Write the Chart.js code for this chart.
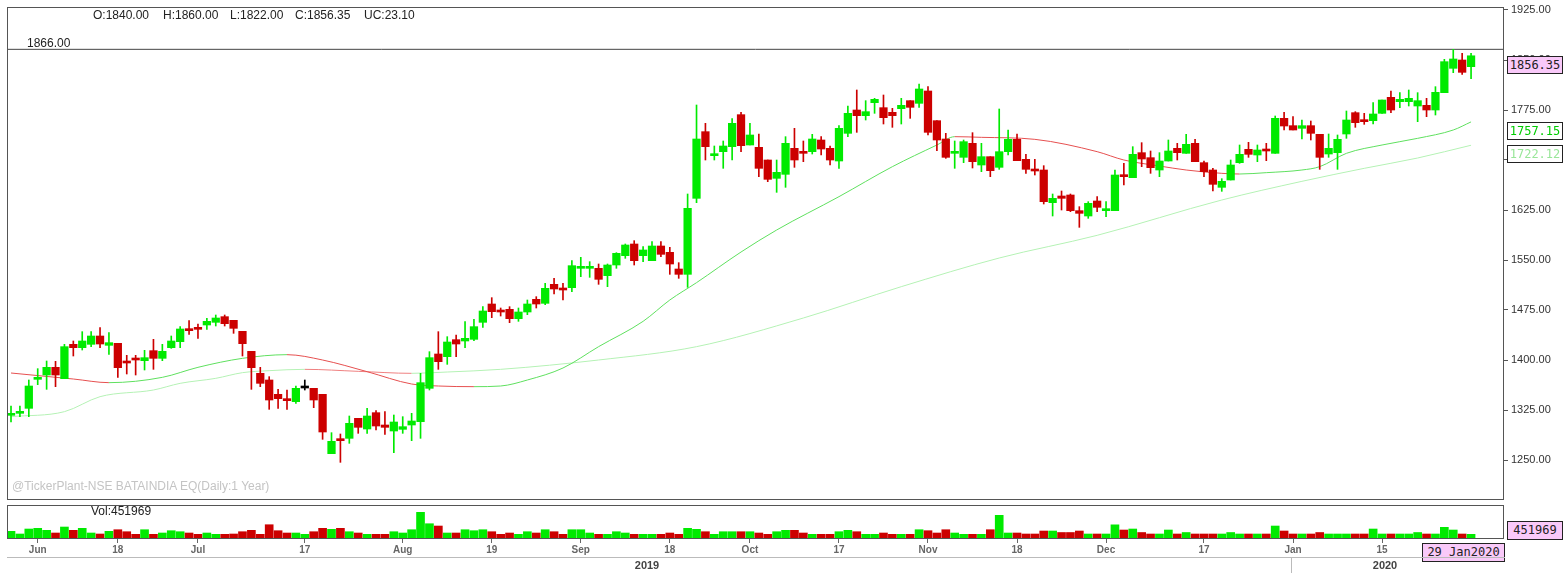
<!DOCTYPE html>
<html>
<head>
<meta charset="utf-8">
<script src="https://cdn.jsdelivr.net/npm/chart.js@4.4.1/dist/chart.umd.min.js"></script>
<style>
  html, body { margin: 0; padding: 0; background: #fff; }
  body { width: 1568px; height: 573px; position: relative; overflow: hidden; font-family: "Liberation Sans", Arial, sans-serif; }
  #priceWrap { position: absolute; left: 0; top: 0; width: 1568px; height: 503px; }
  #volWrap { position: absolute; left: 0; top: 503px; width: 1568px; height: 70px; }
  .txt { position: absolute; white-space: pre; font-size: 12px; line-height: 14px; color: #222; }
  .wm { color: #c4c4c4; }
  .box { position: absolute; border: 1px solid #222; box-sizing: border-box; font-family: "DejaVu Sans Mono", monospace; font-size: 12px; line-height: 16px; text-align: center; color: #222; background: #fff; }
  .pink { background: #f9c9f9; }
  .year { position: absolute; font-size: 11px; font-weight: bold; color: #444; transform: translateX(-50%); }
  .hline { position: absolute; left: 7px; width: 1498px; height: 1px; background: #bbb; }
  .vline { position: absolute; width: 1px; background: #bbb; }
</style>
</head>
<body>
<div id="priceWrap"><canvas id="priceChart" width="1568" height="503"></canvas></div>
<div id="volWrap"><canvas id="volChart" width="1568" height="70"></canvas></div>

<div class="txt" style="left:93px;top:8px">O:1840.00</div>
<div class="txt" style="left:163px;top:8px">H:1860.00</div>
<div class="txt" style="left:230px;top:8px">L:1822.00</div>
<div class="txt" style="left:295px;top:8px">C:1856.35</div>
<div class="txt" style="left:364px;top:8px">UC:23.10</div>
<div class="txt" style="left:27px;top:36px">1866.00</div>
<div class="txt wm" style="left:12px;top:479px">@TickerPlant-NSE BATAINDIA EQ(Daily:1 Year)</div>
<div class="txt" style="left:91px;top:504px">Vol:451969</div>

<div class="box pink" style="left:1507px;top:56px;width:56px;height:18px">1856.35</div>
<div class="box" style="left:1507px;top:122px;width:56px;height:18px;color:#00cc00">1757.15</div>
<div class="box" style="left:1507px;top:145px;width:56px;height:18px;color:#99e699">1722.12</div>
<div class="box pink" style="left:1507px;top:521px;width:56px;height:19px">451969</div>
<div class="box pink" style="left:1422px;top:543px;width:83px;height:19px">29 Jan2020</div>

<div class="hline" style="top:557px"></div>
<div class="vline" style="left:1291px;top:557px;height:16px"></div>
<div class="year" style="left:647px;top:559px">2019</div>
<div class="year" style="left:1385px;top:559px">2020</div>

<script>
// daily candles, 30 May 2019 .. 29 Jan 2020
const opens = [1317,1320,1327.5,1371,1377.5,1389,1372,1423.5,1418.5,1423.5,
  1436,1422,1425,1397.5,1402.5,1399,1414,1402.5,1418.5,1427.5,
  1446.5,1448.5,1452.5,1456.5,1465,1459.5,1443,1413,1380,1370,
  1348.5,1342,1337.5,1358,1357.5,1348.5,1259.5,1282,1282.5,1312.5,
  1296.5,1321,1302.5,1293.5,1296,1302.5,1307.5,1357.5,1409,1405,
  1430.5,1428.5,1431,1456.5,1484,1474,1476,1462,1472,1491,
  1485,1513.5,1506,1508.5,1537.5,1537.5,1537.5,1526.5,1542.5,1556.5,
  1574,1556.5,1549,1571,1561.5,1536.5,1528.5,1642.5,1742.5,1706.5,
  1712.5,1720,1768,1722.5,1719,1700,1672.5,1678.5,1717.5,1712.5,
  1712.5,1730,1717.5,1698.5,1740,1775,1766.5,1786,1778.5,1771.5,
  1777,1789,1785,1803.5,1759,1731.5,1710,1704,1725,1692.5,
  1705,1689,1712.5,1731,1701,1686.5,1685,1636,1646,1647.5,
  1624,1616,1638.5,1624,1624,1677.5,1673.5,1711,1703.5,1685,
  1698.5,1717.5,1710,1725,1696,1685,1659,1670,1696,1716,
  1707.5,1716,1710,1762.5,1751.5,1747.5,1751.5,1738.5,1709,1711,
  1739,1771,1760,1759,1770,1794,1787.5,1787.5,1781,1782,
  1775,1801,1837.5,1850,1840];
const highs = [1331,1331,1370,1387,1398.5,1398,1423.5,1428.5,1442.5,1442.5,
  1448.5,1441,1425,1407,1407,1414.5,1431,1423.5,1436,1450,
  1459,1454,1462.5,1467.5,1467.5,1459.5,1443,1413,1389,1375,
  1356,1355,1361,1370,1357.5,1348.5,1291,1289,1316,1312.5,
  1327.5,1324,1322.5,1317.5,1315,1320,1380,1412.5,1442.5,1435,
  1437.5,1457.5,1461,1480,1493.5,1478,1480,1478,1490,1495,
  1515,1522.5,1515,1549,1554,1547.5,1544,1544,1561,1574,
  1579,1570,1577.5,1577.5,1569,1546,1649,1782.5,1755,1721,
  1728.5,1762,1771.5,1755,1739,1700,1700,1735,1747.5,1728.5,
  1738.5,1735,1721,1751.5,1781,1805,1789,1792.5,1797.5,1777.5,
  1792.5,1789,1814,1810,1759,1740,1728.5,1730,1741,1725,
  1705,1776.5,1745,1739,1708.5,1701,1691.5,1649,1653.5,1649,
  1630,1637.5,1645,1637.5,1685,1695,1720,1726,1713.5,1711,
  1730,1725,1738.5,1731,1698.5,1687.5,1672,1700,1722.5,1726.5,
  1722.5,1725,1766,1771.5,1765,1760,1758.5,1738.5,1739,1737.5,
  1773.5,1772.5,1770,1786,1790,1803.5,1801,1805,1801,1792.5,
  1810,1851,1866,1860,1860];
const lows = [1307,1315,1315,1363,1356,1360,1372,1406,1415,1420,
  1418.5,1408.5,1374,1379,1377.5,1385,1386,1399,1417.5,1418.5,
  1438.5,1432.5,1446,1451,1451,1440,1406,1356,1360,1326,
  1327.5,1326,1335,1355,1328.5,1281,1259.5,1246.5,1275,1290,
  1290,1295,1288.5,1261,1290,1279,1282.5,1355,1386,1393.5,
  1405,1418.5,1429,1449,1463.5,1466,1456,1458,1468,1478,
  1483,1499,1490,1502.5,1525,1524,1513.5,1510,1537.5,1552.5,
  1542.5,1547.5,1549,1555,1528.5,1522.5,1509,1636,1700,1700,
  1687.5,1700,1712.5,1722.5,1675,1667.5,1651.5,1659,1689,1697.5,
  1709,1707.5,1692.5,1687.5,1735,1741.5,1760,1770,1754,1749,
  1754,1762.5,1779,1737.5,1714,1702.5,1687.5,1696,1688,1682.5,
  1675,1686,1707.5,1699,1680,1677.5,1634,1616,1625,1622.5,
  1599,1612.5,1622.5,1615,1624,1662.5,1673.5,1690,1680,1675,
  1698.5,1700,1710,1697.5,1675,1653.5,1653,1670,1695,1704,
  1697.5,1699,1710,1745,1745,1731.5,1730,1686,1704,1686,
  1732.5,1749,1753.5,1754,1770,1771,1778.5,1781,1757.5,1765,
  1767.5,1801,1831,1828.5,1822];
const closes = [1320,1323,1361,1374,1389,1377.5,1420,1418.5,1428.5,1436,
  1424,1426,1388.5,1395.5,1400,1403.5,1402.5,1413,1428.5,1446.5,
  1444,1446,1458,1463,1454.5,1447.5,1424.5,1388.5,1365,1340,
  1342,1339,1357.5,1358,1340,1292,1278,1279,1305,1299,
  1316,1301,1299,1307,1300,1308.5,1366,1403.5,1397.5,1427,
  1424,1432.5,1450,1473.5,1472.5,1472,1462,1472,1484,1484,
  1507.5,1506.5,1505,1541.5,1538.5,1540,1521,1542.5,1560,1572.5,
  1549,1565,1571,1558.5,1544,1528.5,1627.5,1731.5,1720,1708.5,
  1721,1755,1721.5,1737.5,1687.5,1671,1681.5,1725,1700,1710,
  1731.5,1716.5,1700,1747.5,1770,1766.5,1772.5,1791,1763.5,1766.5,
  1782,1779,1806.5,1741.5,1730,1704,1711,1727.5,1697.5,1705,
  1684,1712.5,1731,1699,1686,1683.5,1637.5,1642.5,1642.5,1624,
  1620,1635,1629,1626.5,1677.5,1675,1708.5,1701.5,1688.5,1698.5,
  1713.5,1711,1723.5,1697.5,1682.5,1663.5,1668,1692.5,1708.5,1708.5,
  1715,1713.5,1762.5,1751,1745,1751.5,1740,1704,1717.5,1731,
  1760,1756,1757.5,1769,1790,1775,1791,1792.5,1789,1775,
  1801.5,1847.5,1851.5,1831.5,1856.35];
const volumes = [739000,480000,960000,1027000,835000,576000,1152000,835000,1027000,576000,
  480000,739000,893000,701000,451000,893000,451000,576000,797000,701000,
  576000,451000,576000,451000,451000,480000,701000,835000,451000,1373000,
  797000,576000,576000,451000,701000,1027000,931000,1027000,701000,576000,
  451000,451000,451000,701000,576000,893000,2563000,1469000,1248000,576000,
  576000,893000,797000,893000,701000,451000,576000,451000,701000,576000,
  893000,701000,451000,893000,893000,576000,451000,451000,701000,576000,
  451000,451000,451000,451000,576000,451000,1027000,931000,701000,451000,
  701000,701000,701000,701000,576000,451000,701000,835000,835000,576000,
  451000,451000,451000,701000,835000,701000,451000,451000,576000,451000,
  451000,451000,893000,797000,576000,893000,576000,451000,451000,451000,
  893000,2275000,576000,576000,480000,480000,768000,768000,624000,624000,
  768000,480000,480000,480000,1363000,864000,960000,624000,480000,480000,
  864000,480000,624000,480000,480000,480000,480000,624000,480000,480000,
  480000,480000,1248000,768000,480000,480000,480000,624000,480000,480000,
  480000,480000,480000,960000,480000,480000,480000,480000,624000,480000,
  480000,1123000,864000,480000,451969];

// moving averages (candle index, price)
const maFastIdx = [0,7,11,17,21,26,31,35,40,45,48,52,55,58,62,66,71,74,77,82,86,93,99,104,106,109,115,122,125,129,132,136,138,141,145,147,150,154,158,162,164];
const maFastVal = [1380.5,1371.5,1366,1374,1389,1402.5,1408,1400,1382.5,1364,1361,1360,1361,1370,1388,1420,1458,1490,1516,1562,1595,1645,1690,1722.5,1735,1734,1731,1712.5,1700,1691,1685,1680,1679,1681,1685,1690,1710,1722.5,1732.5,1745,1757.15];
const maSlowIdx = [0,6,10,16,19,23,26,29,33,39,45,49,55,66,77,89,100,111,122,136,145,152,158,164];
const maSlowVal = [1315,1322.5,1345,1355,1365,1372.5,1381,1384,1386,1383,1380,1382,1386,1400,1420,1463,1510,1553,1587,1640,1668,1687.5,1703,1722.12];

const periodHigh = 1866;
const priceTicks = [1250,1325,1400,1475,1550,1625,1700,1775,1850,1925];
const dateTickIdx = [3,12,21,33,44,54,64,74,83,93,103,113,123,134,144,154];
const dateTickLabels = ["Jun","18","Jul","17","Aug","19","Sep","18","Oct","17","Nov","18","Dec","17","Jan","15"];

const UP = "#00ea00", DOWN = "#cc0000", FLAT = "#000000";
const X_MIN = -0.45, X_MAX = 167.7;

Chart.defaults.font.family = '"Liberation Sans", Arial, sans-serif';

const candleColors = opens.map((o, i) => closes[i] > o ? UP : (closes[i] < o ? DOWN : FLAT));
const volColors = opens.map((o, i) => closes[i] >= o ? UP : DOWN);
const bodies = opens.map((o, i) => ({ x: i, y: [o, closes[i]] }));
const wicks = lows.map((l, i) => ({ x: i, y: [l, highs[i]] }));
const maFast = maFastIdx.map((x, i) => ({ x, y: maFastVal[i] }));
const maSlow = maSlowIdx.map((x, i) => ({ x, y: maSlowVal[i] }));
const volData = volumes.map((v, i) => ({ x: i, y: v }));

const slopeColor = (up, down) => (ctx) => ctx.p1.parsed.y < ctx.p0.parsed.y ? down : up;

const framePlugin = {
  id: "frame",
  afterDatasetsDraw(chart) {
    const { ctx, chartArea: a } = chart;
    ctx.save();
    ctx.strokeStyle = "#555";
    ctx.lineWidth = 1;
    ctx.strokeRect(a.left + 0.5, a.top + 0.5, a.right - a.left - 1, a.bottom - a.top - 1);
    ctx.restore();
  }
};

new Chart(document.getElementById("priceChart"), {
  type: "bar",
  data: {
    datasets: [
      { type: "line", data: [{ x: X_MIN, y: periodHigh }, { x: X_MAX, y: periodHigh }], borderColor: "#444", borderWidth: 1, pointRadius: 0, order: 5 },
      { type: "line", data: maSlow, borderWidth: 1, pointRadius: 0, cubicInterpolationMode: "monotone",
        borderColor: "#b5f2b5", segment: { borderColor: slopeColor("#b5f2b5", "#ef8080") }, order: 4 },
      { type: "line", data: maFast, borderWidth: 1, pointRadius: 0, cubicInterpolationMode: "monotone",
        borderColor: "#5fe05f", segment: { borderColor: slopeColor("#5fe05f", "#e65050") }, order: 3 },
      { data: wicks, backgroundColor: candleColors, barThickness: 1, grouped: false, borderWidth: 0, order: 1 },
      { data: bodies, backgroundColor: candleColors, barThickness: 7.6, minBarLength: 2, grouped: false, borderWidth: 0, order: 0 }
    ]
  },
  options: {
    responsive: false,
    animation: false,
    events: [],
    layout: { padding: { left: 7, top: 7, right: 0, bottom: 3 } },
    plugins: { legend: { display: false }, tooltip: { enabled: false } },
    scales: {
      x: { type: "linear", min: X_MIN, max: X_MAX, offset: false, display: false },
      y: {
        position: "right",
        min: 1190,
        max: 1929.5,
        afterBuildTicks: (s) => { s.ticks = priceTicks.map((v) => ({ value: v })); },
        afterFit: (s) => { s.width = 64; s.paddingTop = 0; s.paddingBottom = 0; },
        grid: { drawOnChartArea: false, tickLength: 4, color: "#555" },
        border: { display: false },
        ticks: { padding: 3, color: "#333", font: { size: 11 }, callback: (v) => Number(v).toFixed(2) }
      }
    }
  },
  plugins: [framePlugin]
});

new Chart(document.getElementById("volChart"), {
  type: "bar",
  data: {
    datasets: [{ data: volData, backgroundColor: volColors, barThickness: 8, borderWidth: 0 }]
  },
  options: {
    responsive: false,
    animation: false,
    events: [],
    layout: { padding: { left: 7, top: 2, right: 0, bottom: 0 } },
    plugins: { legend: { display: false }, tooltip: { enabled: false } },
    scales: {
      x: {
        type: "linear", min: X_MIN, max: X_MAX, offset: false,
        afterBuildTicks: (s) => { s.ticks = dateTickIdx.map((v) => ({ value: v })); },
        afterFit: (s) => { s.height = 34; s.paddingLeft = 0; s.paddingRight = 0; },
        grid: { drawOnChartArea: false, offset: false, tickLength: 4, color: "#666" },
        border: { display: false },
        ticks: { autoSkip: false, maxRotation: 0, padding: 1, color: "#666", font: { size: 10, weight: "bold" },
          callback: (v, i) => dateTickLabels[i] }
      },
      y: {
        position: "right", min: 0, max: 3270000,
        afterFit: (s) => { s.width = 64; s.paddingTop = 0; s.paddingBottom = 0; },
        grid: { display: false }, border: { display: false }, ticks: { display: false }
      }
    }
  },
  plugins: [framePlugin]
});
</script>
</body>
</html>
